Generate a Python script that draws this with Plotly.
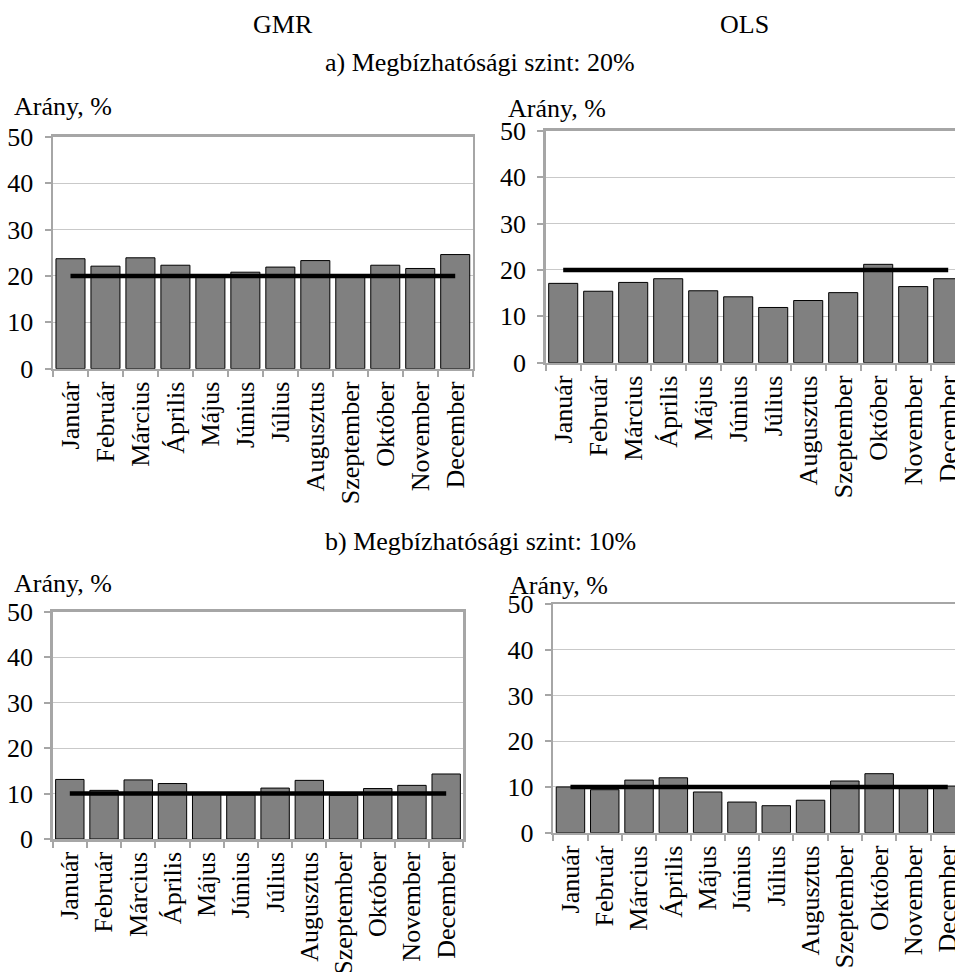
import plotly.graph_objects as go

months = ["Január", "Február", "Március", "Április", "Május", "Június",
          "Július", "Augusztus", "Szeptember", "Október", "November", "December"]

gmr_20 = [23.7, 22.1, 23.9, 22.3, 20.0, 20.8, 21.9, 23.3, 19.9, 22.3, 21.6, 24.6]
ols_20 = [17.1, 15.4, 17.3, 18.1, 15.5, 14.2, 11.9, 13.4, 15.1, 21.2, 16.4, 18.1]
gmr_10 = [13.1, 10.7, 13.0, 12.2, 9.8, 9.7, 11.2, 12.9, 9.6, 11.1, 11.8, 14.3]
ols_10 = [10.0, 9.4, 11.5, 12.0, 8.9, 6.7, 5.9, 7.1, 11.3, 12.9, 9.8, 10.2]

level_20 = 20
level_10 = 10

column_titles = ["GMR", "OLS"]
row_titles = ["a) Megbízhatósági szint: 20%", "b) Megbízhatósági szint: 10%"]
y_title = "Arány, %"
y_ticks = [0, 10, 20, 30, 40, 50]

W, H = 955, 972
FONT = "Liberation Serif"
FS = 26
AXIS_COL = "#a6a6a6"
GRID_COL = "#c9c9c9"

# panel pixel boxes: (values, level, left, right, top, bottom, category width, mirror right)
panels = [
    (gmr_20, level_20, 53, 472.7, 136.7, 368.7, None, True),
    (ols_20, level_20, 545.7, 955, 130.7, 362.7, 35.0, False),
    (gmr_10, level_10, 52.7, 463.3, 611.7, 839, None, True),
    (ols_10, level_10, 553.3, 955, 604, 832.7, 34.3, False),
]

fig = go.Figure()
for i, (vals, lvl, l, r, t, b, cw, mir) in enumerate(panels, start=1):
    xa = "x" if i == 1 else f"x{i}"
    ya = "y" if i == 1 else f"y{i}"
    fig.add_trace(go.Bar(x=months, y=vals, xaxis=xa, yaxis=ya,
                         marker=dict(color="#808080", line=dict(color="#000000", width=1)),
                         showlegend=False, hoverinfo="skip"))
    fig.add_trace(go.Scatter(x=months, y=[lvl] * len(months), xaxis=xa, yaxis=ya,
                             mode="lines", line=dict(color="#000000", width=4.5),
                             showlegend=False, hoverinfo="skip"))
    if cw is None:
        xr = [-0.5, len(months) - 0.5]
    else:
        xr = [-0.5, -0.5 + (r - l) / cw]
    xkey = "xaxis" if i == 1 else f"xaxis{i}"
    ykey = "yaxis" if i == 1 else f"yaxis{i}"
    fig.layout[xkey] = dict(
        domain=[l / W, r / W], anchor=ya, type="category", range=xr,
        showline=True, linecolor=AXIS_COL, linewidth=2.5, mirror=True,
        ticks="outside", tickson="boundaries", ticklen=6, tickwidth=2, tickcolor=AXIS_COL,
        tickangle=-90, tickfont=dict(family=FONT, size=FS, color="#000"),
        showgrid=False, fixedrange=True, automargin=False)
    fig.layout[ykey] = dict(
        domain=[1 - b / H, 1 - t / H], anchor=xa, range=[0, 50], tickvals=y_ticks,
        showline=True, linecolor=AXIS_COL, linewidth=2.5, mirror=mir,
        ticks="outside", ticklen=6, tickwidth=2, tickcolor=AXIS_COL,
        showgrid=True, gridcolor=GRID_COL, gridwidth=1, zeroline=False,
        tickfont=dict(family=FONT, size=FS, color="#000"), ticklabelstandoff=6,
        fixedrange=True, automargin=False)

ann = []
def txt(s, x, y, anchor="center"):
    ann.append(dict(text=s, x=x / W, y=1 - y / H, xref="paper", yref="paper",
                    xanchor=anchor, yanchor="middle", showarrow=False,
                    font=dict(family=FONT, size=FS, color="#000")))

txt(column_titles[0], 283, 25)
txt(column_titles[1], 744, 25)
txt(row_titles[0], 480, 63)
txt(row_titles[1], 480, 541)
txt(y_title, 12, 107, "left")
txt(y_title, 506, 108, "left")
txt(y_title, 12, 583, "left")
txt(y_title, 508, 585, "left")

fig.update_layout(width=W, height=H,
                  margin=dict(l=0, r=0, t=0, b=0, pad=0, autoexpand=False),
                  paper_bgcolor="white", plot_bgcolor="white",
                  bargap=0.17, annotations=ann, showlegend=False)

fig.write_html("out.html",
               config={"displayModeBar": False, "staticPlot": True},
               post_script="document.body.style.margin='0';document.body.style.overflow='hidden';")
